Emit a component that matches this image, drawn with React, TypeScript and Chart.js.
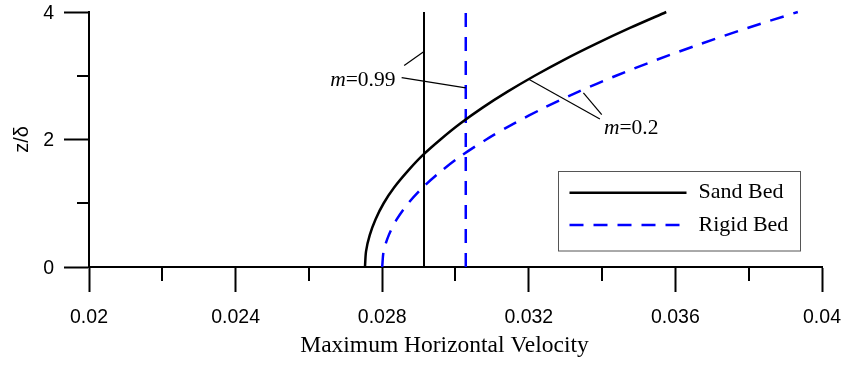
import React, { useEffect, useRef } from 'react';
import { Chart, registerables } from 'chart.js';

Chart.register(...registerables);

// ---- data ----
const zLevels = [0, 0.25, 0.5, 0.75, 1, 1.25, 1.5, 1.75, 2, 2.25, 2.5, 2.75, 3, 3.25, 3.5, 3.75, 4];
const sandBedX = [0.02753, 0.02756, 0.02766, 0.02782, 0.02804, 0.02833, 0.02869, 0.0291, 0.02959, 0.03013, 0.03074, 0.03142, 0.03216, 0.03296, 0.03383, 0.03476, 0.03575];
const rigidBedX = [0.028, 0.02804, 0.02818, 0.0284, 0.02871, 0.02911, 0.0296, 0.03017, 0.03084, 0.03159, 0.03243, 0.03336, 0.03438, 0.03549, 0.03669, 0.03797, 0.03934];
const verticalZ = [0, 4];
const sandM099X = [0.02914, 0.02914];
const rigidM099X = [0.03028, 0.03028];

const seriesLabels = ['Sand Bed', 'Rigid Bed'];
const xTickValues = [0.02, 0.024, 0.028, 0.032, 0.036, 0.04];
const xTickLabels = ['0.02', '0.024', '0.028', '0.032', '0.036', '0.04'];
const xMinorTicks = [0.022, 0.026, 0.03, 0.034, 0.038];
const yTickValues = [0, 2, 4];
const yTickLabels = ['0', '2', '4'];
const yMinorTicks = [1, 3];

const xAxisTitle = 'Maximum Horizontal Velocity';
const yAxisTitle = 'z/δ';
const annotationLabels = ['0.99', '0.2'];

const SANS = '"Liberation Sans", Arial, sans-serif';
const SERIF = '"Liberation Serif", "Times New Roman", serif';
const BLUE = '#0000ff';
const DASH = [14, 10];

export default function App() {
  const ref = useRef<HTMLCanvasElement>(null);

  useEffect(() => {
    const canvas = ref.current;
    if (!canvas) return;

    const pts = (xs: number[], zs: number[]) => xs.map((x, i) => ({ x, y: zs[i] }));

    // leader lines of the annotations, in data coordinates
    const leaders: [number, number, number, number][] = [
      [0.0286, 3.16, 0.02914, 3.38],
      [0.02853, 2.97, 0.03028, 2.81],
      [0.03201, 2.94, 0.03394, 2.32],
      [0.03349, 2.73, 0.03399, 2.39],
    ];
    const texts: [string, number, number][] = [
      [annotationLabels[0], 0.02658, 2.84],
      [annotationLabels[1], 0.03405, 2.09],
    ];

    const overlay = {
      id: 'overlay',
      afterDatasetsDraw(chart: any) {
        const { ctx, chartArea: ca, scales } = chart;
        const xs = scales.x;
        const ys = scales.y;
        ctx.save();
        // minor ticks
        ctx.strokeStyle = '#000';
        ctx.lineWidth = 2;
        yMinorTicks.forEach((v) => {
          const py = Math.round(ys.getPixelForValue(v));
          ctx.beginPath();
          ctx.moveTo(ca.left - 12, py);
          ctx.lineTo(ca.left, py);
          ctx.stroke();
        });
        xMinorTicks.forEach((v) => {
          const px = Math.round(xs.getPixelForValue(v));
          ctx.beginPath();
          ctx.moveTo(px, ca.bottom);
          ctx.lineTo(px, ca.bottom + 14);
          ctx.stroke();
        });

        // leader lines
        ctx.lineWidth = 1.2;
        leaders.forEach(([x1, z1, x2, z2]) => {
          ctx.beginPath();
          ctx.moveTo(xs.getPixelForValue(x1), ys.getPixelForValue(z1));
          ctx.lineTo(xs.getPixelForValue(x2), ys.getPixelForValue(z2));
          ctx.stroke();
        });

        // annotation texts: italic m, then "=value"
        ctx.fillStyle = '#000';
        ctx.textBaseline = 'alphabetic';
        ctx.textAlign = 'left';
        texts.forEach(([val, x, z]) => {
          let px = xs.getPixelForValue(x);
          const py = ys.getPixelForValue(z);
          ctx.font = `italic 21.5px ${SERIF}`;
          ctx.fillText('m', px, py);
          px += ctx.measureText('m').width;
          ctx.font = `21.5px ${SERIF}`;
          ctx.fillText('=' + val, px, py);
        });

        // legend box
        const bx = ca.right - 263.5;
        const by = ca.bottom - 95.5;
        const bw = 242;
        const bh = 79.5;
        ctx.fillStyle = '#fff';
        ctx.fillRect(bx, by, bw, bh);
        ctx.strokeStyle = '#555';
        ctx.lineWidth = 1;
        ctx.strokeRect(bx, by, bw, bh);
        const rows = [by + 21.2, by + 53.5];
        [0, 1].forEach((i) => {
          const ds = chart.data.datasets[i];
          ctx.strokeStyle = ds.borderColor;
          ctx.lineWidth = ds.borderWidth;
          ctx.setLineDash(ds.borderDash || []);
          ctx.beginPath();
          ctx.moveTo(bx + 11, rows[i]);
          ctx.lineTo(bx + 128, rows[i]);
          ctx.stroke();
          ctx.setLineDash([]);
          ctx.fillStyle = '#000';
          ctx.font = `22px ${SERIF}`;
          ctx.textBaseline = 'middle';
          ctx.fillText(ds.label, bx + 140, rows[i]);
        });

        // x-axis title
        ctx.font = `23.5px ${SERIF}`;
        ctx.textAlign = 'center';
        ctx.textBaseline = 'alphabetic';
        ctx.fillStyle = '#000';
        ctx.fillText(xAxisTitle, 444.5, 351.5);
        ctx.restore();
      },
    };

    const chart = new Chart(canvas, {
      type: 'scatter',
      data: {
        datasets: [
          {
            label: seriesLabels[0],
            data: pts(sandBedX, zLevels),
            borderColor: '#000',
            backgroundColor: '#000',
            borderWidth: 2.5,
            showLine: true,
            pointRadius: 0,
            tension: 0.3,
            clip: false,
          },
          {
            label: seriesLabels[1],
            data: pts(rigidBedX, zLevels),
            borderColor: BLUE,
            backgroundColor: BLUE,
            borderWidth: 2.5,
            borderDash: DASH,
            showLine: true,
            pointRadius: 0,
            tension: 0.3,
            clip: false,
          },
          {
            label: seriesLabels[0] + ' m=0.99',
            data: pts(sandM099X, verticalZ),
            borderColor: '#000',
            borderWidth: 2,
            showLine: true,
            pointRadius: 0,
            clip: false,
          },
          {
            label: seriesLabels[1] + ' m=0.99',
            data: pts(rigidM099X, verticalZ),
            borderColor: BLUE,
            borderWidth: 2.5,
            borderDash: DASH,
            showLine: true,
            pointRadius: 0,
            clip: false,
          },
        ],
      } as any,
      options: {
        responsive: false,
        animation: false,
        devicePixelRatio: 1,
        layout: { padding: { left: 0, top: 12, right: 23, bottom: 0 } },
        plugins: { legend: { display: false }, tooltip: { enabled: false } },
        scales: {
          x: {
            type: 'linear',
            position: 'bottom',
            min: 0.02,
            max: 0.04,
            afterBuildTicks: (s: any) => {
              s.ticks = xTickValues.map((v) => ({ value: v }));
            },
            afterFit: (s: any) => {
              s.height = 100;
              s.paddingLeft = 0;
              s.paddingRight = 0;
            },
            ticks: {
              callback: (_v: any, i: number) => xTickLabels[i],
              color: '#000',
              font: { family: SANS, size: 19.5 },
              padding: 14,
              maxRotation: 0,
              autoSkip: false,
            },
            grid: { drawOnChartArea: false, drawTicks: true, tickLength: 25, tickWidth: 2, tickColor: '#000' },
            border: { display: true, color: '#000', width: 2 },
          },
          y: {
            type: 'linear',
            position: 'left',
            min: 0,
            max: 4,
            afterBuildTicks: (s: any) => {
              s.ticks = yTickValues.map((v) => ({ value: v }));
            },
            afterFit: (s: any) => {
              s.width = 89;
              s.paddingTop = 0;
              s.paddingBottom = 0;
            },
            ticks: {
              callback: (_v: any, i: number) => yTickLabels[i],
              color: '#000',
              font: { family: SANS, size: 19.5 },
              padding: 10,
              labelOffset: 1.5,
              autoSkip: false,
            },
            title: {
              display: true,
              text: yAxisTitle,
              color: '#000',
              font: { family: SANS, size: 20 },
              padding: { top: 10, bottom: 0 },
            },
            grid: { drawOnChartArea: false, drawTicks: true, tickLength: 25, tickWidth: 2, tickColor: '#000' },
            border: { display: true, color: '#000', width: 2 },
          },
        },
      } as any,
      plugins: [overlay],
    });

    return () => chart.destroy();
  }, []);

  return (
    <div style={{ position: 'fixed', left: 0, top: 0, width: 845, height: 367, background: '#fff' }}>
      <canvas ref={ref} width={845} height={367} style={{ display: 'block', width: 845, height: 367 }} />
    </div>
  );
}
